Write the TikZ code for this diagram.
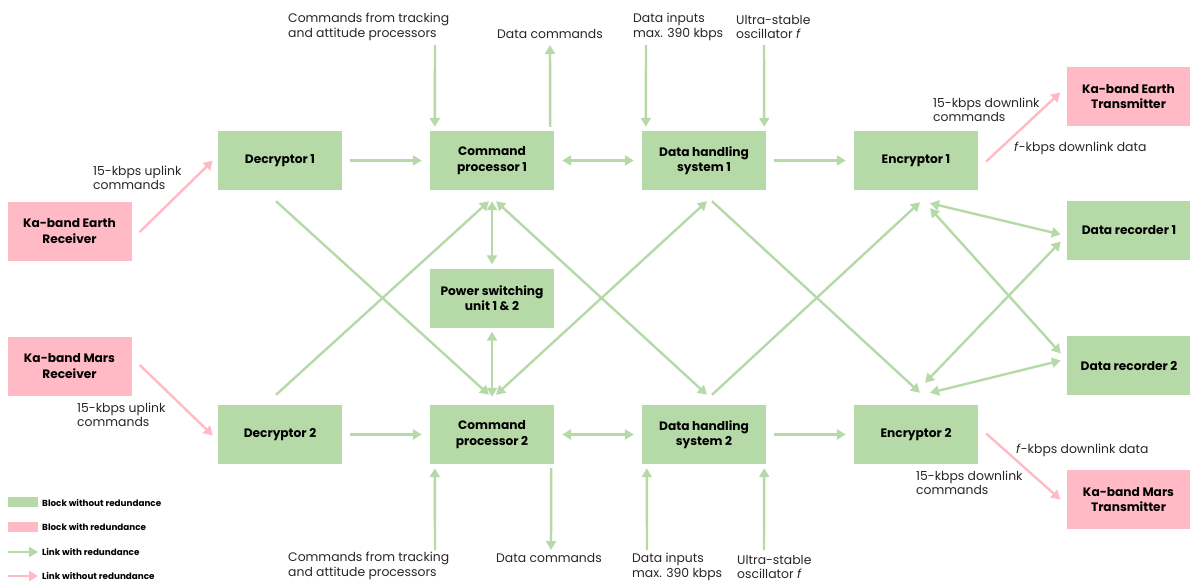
\documentclass[tikz,border=0pt]{standalone}
\usepackage{fontspec}
\setmainfont{Poppins}
\usetikzlibrary{arrows.meta,calc}
\definecolor{gbox}{HTML}{B6D9A8}
\definecolor{pbox}{HTML}{FFBAC5}
\definecolor{txt}{HTML}{262626}
\tikzset{
  gblock/.style={fill=gbox,draw=none,minimum width=124pt,minimum height=59pt,inner sep=0pt,align=center,font=\fontsize{12.2}{15.5}\selectfont\bfseries,text=black},
  pblock/.style={gblock,fill=pbox},
  garrow/.style={draw=gbox,line width=2.4pt,-{Triangle[length=9pt,width=10pt]}},
  gdarrow/.style={draw=gbox,line width=2.4pt,{Triangle[length=9pt,width=10pt]}-{Triangle[length=9pt,width=10pt]}},
  parrow/.style={draw=pbox,line width=2.4pt,-{Triangle[length=9pt,width=10pt]}},
  lbl/.style={anchor=west,align=left,inner sep=0pt,text=txt,font=\fontsize{12.4}{14.5}\selectfont},
  leg/.style={anchor=west,inner sep=0pt,text=black,font=\fontsize{8.8}{10}\selectfont\bfseries},
}
\begin{document}
\begin{tikzpicture}[x=1pt,y=-1pt]
\useasboundingbox (0,0) rectangle (1190,581);
% blocks
\node[pblock] (erx) at (69.5,231) {Ka-band Earth\\Receiver};
\node[pblock] (mrx) at (69.5,366) {Ka-band Mars\\Receiver};
\node[gblock] (dec1) at (280,160.5) {Decryptor 1};
\node[gblock] (cp1) at (492,160.5) {Command\\processor 1};
\node[gblock] (dhs1) at (704,160.5) {Data handling\\system 1};
\node[gblock] (enc1) at (916,160.5) {Encryptor 1};
\node[gblock] (psu) at (492,298) {Power switching\\unit 1 \& 2};
\node[gblock] (dec2) at (280,434.5) {Decryptor 2};
\node[gblock] (cp2) at (492,434.5) {Command\\processor 2};
\node[gblock] (dhs2) at (704,434.5) {Data handling\\system 2};
\node[gblock] (enc2) at (916,434.5) {Encryptor 2};
\node[pblock] (etx) at (1128.5,96.5) {Ka-band Earth\\Transmitter};
\node[gblock] (dr1) at (1129,230.5) {Data recorder 1};
\node[gblock] (dr2) at (1129,365.5) {Data recorder 2};
\node[pblock] (mtx) at (1128.5,499.5) {Ka-band Mars\\Transmitter};
% free ends
\coordinate (t1) at (435,45);
\coordinate (t2) at (550,45);
\coordinate (t3) at (646,45);
\coordinate (t4) at (764,45);
\coordinate (b1) at (435,550);
\coordinate (b2) at (551,550);
\coordinate (b3) at (647,550);
\coordinate (b4) at (764,550);
% horizontal links
\draw[garrow] ($(dec1.east)+(8,0)$) -- ($(cp1.west)+(-8,0)$);
\draw[gdarrow] ($(cp1.east)+(8,0)$) -- ($(dhs1.west)+(-8,0)$);
\draw[garrow] ($(dhs1.east)+(8,0)$) -- ($(enc1.west)+(-8,0)$);
\draw[garrow] ($(dec2.east)+(8,0)$) -- ($(cp2.west)+(-8,0)$);
\draw[gdarrow] ($(cp2.east)+(8,0)$) -- ($(dhs2.west)+(-8,0)$);
\draw[garrow] ($(dhs2.east)+(8,0)$) -- ($(enc2.west)+(-8,0)$);
% vertical inputs / outputs
\draw[garrow] (t1) -- ($(cp1.north west)+(5,-4)$);
\draw[garrow] ($(cp1.north east)+(-4,-4)$) -- (t2);
\draw[garrow] (t3) -- ($(dhs1.north west)+(4,-4)$);
\draw[garrow] (t4) -- ($(dhs1.north east)+(-2,-4)$);
\draw[garrow] (b1) -- ($(cp2.south west)+(5,4)$);
\draw[garrow] ($(cp2.south east)+(-3,4)$) -- (b2);
\draw[garrow] (b3) -- ($(dhs2.south west)+(5,4)$);
\draw[garrow] (b4) -- ($(dhs2.south east)+(-2,4)$);
% diagonals
\draw[garrow] ($(dec1.south)+(-4,11)$) -- ($(cp2.north)+(-3,-10)$);
\draw[garrow] ($(dec2.north)+(-4,-10)$) -- ($(cp1.south)+(-3,11)$);
\draw[gdarrow] ($(cp1.south)+(0,11)$) -- ($(psu.north)+(0,-4)$);
\draw[gdarrow] ($(psu.south)+(0,4)$) -- ($(cp2.north)+(0,-8)$);
\draw[gdarrow] ($(cp1.south)+(4,11)$) -- ($(dhs2.north)+(3,-10)$);
\draw[gdarrow] ($(cp2.north)+(4,-10)$) -- ($(dhs1.south)+(3,11)$);
\draw[garrow] ($(dhs1.south)+(8,11)$) -- ($(enc2.north)+(4,-12)$);
\draw[garrow] ($(dhs2.north)+(8,-10)$) -- ($(enc1.south)+(4,12)$);
\draw[gdarrow] ($(enc1.south)+(14,13)$) -- ($(dr1.west)+(-6,4)$);
\draw[gdarrow] ($(enc1.south)+(14,18)$) -- ($(dr2.west)+(-6,-12)$);
\draw[gdarrow] ($(enc2.north)+(9,-22)$) -- ($(dr1.west)+(-6,11)$);
\draw[gdarrow] ($(enc2.north)+(14,-12)$) -- ($(dr2.west)+(-6,-5)$);
% pink links
\draw[parrow] ($(erx.east)+(8,1)$) -- ($(dec1.west)+(-5,0)$);
\draw[parrow] ($(mrx.east)+(8,-1)$) -- ($(dec2.west)+(-5,1)$);
\draw[parrow] ($(enc1.east)+(8,1)$) -- ($(etx.west)+(-6,-4)$);
\draw[parrow] ($(enc2.east)+(8,-1)$) -- ($(mtx.west)+(-6,0)$);
% labels
\node[lbl] (l1) at (288,27) {Commands from tracking\\and attitude processors};
\node[lbl] (l2) at (497,34) {Data commands};
\node[lbl] (l3) at (633,27) {Data inputs\\max. 390 kbps};
\node[lbl] (l4) at (736,27) {Ultra-stable\\oscillator \textit{f}};
\node[lbl] (l5) at (288,566) {Commands from tracking\\and attitude processors};
\node[lbl] (l6) at (496,558) {Data commands};
\node[lbl] (l7) at (632,567) {Data inputs\\max. 390 kbps};
\node[lbl] (l8) at (737,567) {Ultra-stable\\oscillator \textit{f}};
\node[lbl] (l9) at (93,178) {15-kbps uplink\\commands};
\node[lbl] (l10) at (77,415) {15-kbps uplink\\commands};
\node[lbl] (l11) at (933,110) {15-kbps downlink\\commands};
\node[lbl] (l12) at (1014,148) {\textit{f}-kbps downlink data};
\node[lbl] (l13) at (1016,450) {\textit{f}-kbps downlink data};
\node[lbl] (l14) at (916,483) {15-kbps downlink\\commands};
% legend
\node[fill=gbox,minimum width=30pt,minimum height=10pt,inner sep=0pt] (lg1) at (23,502) {};
\node[fill=pbox,minimum width=30pt,minimum height=10pt,inner sep=0pt] (lg2) at (23,527) {};
\coordinate (lg3a) at (8,552);
\coordinate (lg3b) at (38,552);
\coordinate (lg4a) at (8,576);
\coordinate (lg4b) at (38,576);
\draw[garrow] (lg3a) -- (lg3b);
\draw[parrow] (lg4a) -- (lg4b);
\node[leg] (lt1) at (42,503) {Block without redundance};
\node[leg] (lt2) at (42,527) {Block with redundance};
\node[leg] (lt3) at (42,552) {Link with redundance};
\node[leg] (lt4) at (42,576) {Link without redundance};
\end{tikzpicture}
\end{document}
